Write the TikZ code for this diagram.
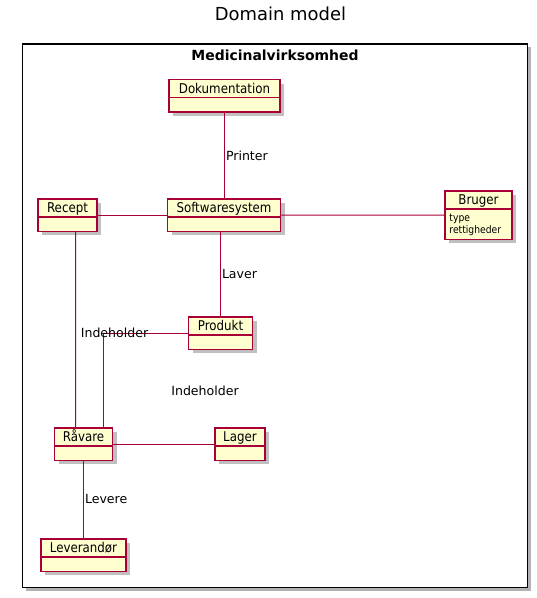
\documentclass[tikz,border=0pt]{standalone}
\usepackage{fontspec}
\setmainfont{DejaVu Sans}
\newfontfamily\klassefont[FakeStretch=0.88]{DejaVu Sans}
\usetikzlibrary{shadows}
\definecolor{umlred}{HTML}{A80036}
\definecolor{umlfill}{HTML}{FEFECE}
\tikzset{
 klasse/.style={draw=umlred, fill=umlfill, line width=1.5bp, anchor=north,
  font=\klassefont\fontsize{13.5}{16}\selectfont, inner xsep=5bp, inner ysep=2.5bp,
  text height=11.5bp, text depth=#1,
  drop shadow={shadow xshift=4bp, shadow yshift=-4bp, fill=black, opacity=.25},
  path picture={\draw[umlred, line width=1.5bp]
   ([yshift=-18bp]path picture bounding box.north west) --
   ([yshift=-18bp]path picture bounding box.north east);}},
 klasse/.default=16bp,
 attrib/.style={anchor=base west, inner sep=0pt, font=\klassefont\fontsize{10.5}{12}\selectfont},
 forb/.style={draw=umlred, line width=1bp},
 lbl/.style={font=\fontsize{12.6}{15}\selectfont, inner sep=1bp}
}

\begin{document}
\begin{tikzpicture}[x=1bp,y=-1bp]
\useasboundingbox (0,0) rectangle (537,598);
\node[font=\fontsize{18}{22}\selectfont] (titel) at (280.5,13.5) {Domain model};
\draw[line width=1.5bp, fill=white, drop shadow={shadow xshift=3bp, shadow yshift=-3bp, fill=black, opacity=.3}] (22.5,44) rectangle (527.5,587.5);
\node[font=\bfseries\fontsize{14}{17}\selectfont] (pakke) at (275,55) {Medicinalvirksomhed};

% klasser
\node[klasse, minimum width=111bp] (dok) at (224.5,79) {Dokumentation};
\node[klasse, minimum width=113bp] (soft) at (224,198) {Softwaresystem};
\node[klasse, minimum width=59bp] (recept) at (67.5,198) {Recept};
\node[klasse=32bp, minimum width=67bp] (bruger) at (478.5,190) {Bruger};
\node[attrib] (type) at ([xshift=5bp,yshift=-31.5bp]bruger.north west) {type};
\node[attrib] (rettigheder) at ([yshift=-12bp]type.base west) {rettigheder};
\node[klasse, minimum width=64bp] (produkt) at (220.5,316) {Produkt};
\node[klasse, minimum width=58bp] (raavare) at (83.5,427) {Råvare};
\node[klasse, minimum width=50bp] (lager) at (240,427) {Lager};
\node[klasse, minimum width=85bp] (lev) at (83.5,538) {Leverandør};

% forbindelser
\draw[forb] (dok.south) -- node[lbl, right, midway] {Printer} (dok.south |- soft.north);
\draw[forb] (recept.east) -- (soft.west);
\draw[forb] (soft.east) -- (bruger.west);
\draw[forb] ([xshift=8bp]recept.south) -- ([xshift=-8bp]raavare.north);
\draw[forb] (produkt.north |- soft.south) -- node[lbl, right, midway] {Laver} (produkt.north);
\draw[forb] (produkt.west) -| node[lbl, pos=0.5, xshift=11bp] {Indeholder} ([xshift=20bp]raavare.north);
\draw[forb] (raavare.east) -- (lager.west);
\node[lbl] (indeholder) at (205,390.5) {Indeholder};
\draw[forb] (raavare.south) -- node[lbl, right, midway] {Levere} (lev.north);

\end{tikzpicture}
\end{document}
